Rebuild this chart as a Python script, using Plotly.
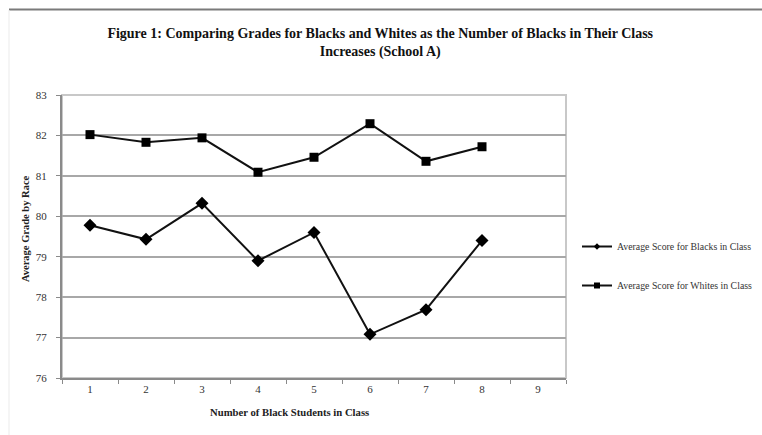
import plotly.graph_objects as go

# Number of black students in the class (category axis 1..9)
class_sizes = ["1", "2", "3", "4", "5", "6", "7", "8", "9"]
x_points = ["1", "2", "3", "4", "5", "6", "7", "8"]

# Average grade by race
blacks_avg = [79.78, 79.43, 80.32, 78.90, 79.60, 77.08, 77.69, 79.40]
whites_avg = [82.02, 81.83, 81.94, 81.09, 81.46, 82.29, 81.36, 81.72]

y_ticks = [76, 77, 78, 79, 80, 81, 82, 83]

series_names = ["Average Score for Blacks in Class", "Average Score for Whites in Class"]

W, H = 762, 435
L, R, T, B = 62, 196, 95, 57
PW, PH = W - L - R, H - T - B

serif = "Liberation Serif, Times New Roman, serif"

fig = go.Figure()

for vals, sym, msize in [(blacks_avg, "diamond", 10), (whites_avg, "square", 9)]:
    fig.add_trace(go.Scatter(
        x=x_points, y=vals, mode="lines+markers",
        line=dict(color="#111111", width=2),
        marker=dict(symbol=sym, size=msize, color="#000000"),
        showlegend=False, hoverinfo="x+y",
    ))

# legend entries with small markers, as in the legend key
for name, sym, msize, grp in [(series_names[0], "diamond", 5, "b"),
                              (series_names[1], "square", 6, "w")]:
    fig.add_trace(go.Scatter(
        x=[None], y=[None], mode="lines+markers", name=name,
        line=dict(color="#111111", width=2),
        marker=dict(symbol=sym, size=msize, color="#000000"),
        legendgroup=grp,
    ))


def px_x(p):
    return (p - L) / PW


def px_y(p):
    return 1 - (p - T) / PH


shapes = [
    # plot area border (top/right light)
    dict(type="rect", xref="paper", yref="paper", x0=0, x1=1, y0=0, y1=1,
         line=dict(color="#c8c8c8", width=2), layer="below"),
    # page frame lines
    dict(type="line", xref="paper", yref="paper",
         x0=px_x(9), x1=px_x(762), y0=px_y(9.5), y1=px_y(9.5),
         line=dict(color="#7a7a7a", width=2)),
    dict(type="line", xref="paper", yref="paper",
         x0=px_x(9), x1=px_x(9), y0=px_y(10), y1=px_y(435),
         line=dict(color="#ebebeb", width=1)),
]

annotations = [
    dict(text="<b>Number of Black Students in Class</b>", showarrow=False,
         xref="paper", yref="paper", x=px_x(289), y=px_y(412),
         xanchor="center", yanchor="middle",
         font=dict(family=serif, size=10.7, color="#222222")),
    dict(text="<b>Average Grade by Race</b>", showarrow=False, textangle=-90,
         xref="paper", yref="paper", x=px_x(25), y=px_y(229),
         xanchor="center", yanchor="middle",
         font=dict(family=serif, size=10.5, color="#222222")),
]

fig.update_layout(
    width=W, height=H,
    margin=dict(l=L, r=R, t=T, b=B, autoexpand=False),
    paper_bgcolor="white", plot_bgcolor="white",
    font=dict(family=serif, color="#333333", size=10),
    title=dict(
        text="<b>Figure 1: Comparing Grades for Blacks and Whites as the Number of Blacks in Their Class<br>Increases (School A)</b>",
        x=0.499, xanchor="center", xref="container",
        y=1 - 38 / H, yanchor="top", yref="container",
        font=dict(family=serif, size=14, color="#111111"),
    ),
    xaxis=dict(
        type="category", categoryorder="array", categoryarray=class_sizes,
        range=[-0.5, 8.5], tickson="boundaries",
        ticks="outside", ticklen=4, tickcolor="#8a8a8a",
        showline=True, linecolor="#8a8a8a", linewidth=2,
        showgrid=False, zeroline=False,
        tickfont=dict(family=serif, size=11, color="#333333"),
    ),
    yaxis=dict(
        range=[76, 83], tickvals=y_ticks,
        ticks="outside", ticklen=4, tickcolor="#8a8a8a",
        showline=True, linecolor="#8a8a8a", linewidth=2,
        showgrid=True, gridcolor="#a8a8a8", gridwidth=1.5,
        zeroline=False, ticklabelstandoff=7,
        tickfont=dict(family=serif, size=11, color="#333333"),
    ),
    legend=dict(
        xref="container", yref="container",
        x=577 / W, xanchor="left", y=1 - 266 / H, yanchor="middle",
        font=dict(family=serif, size=9.8, color="#333333"),
        itemwidth=30, tracegroupgap=20, bgcolor="rgba(0,0,0,0)",
    ),
    shapes=shapes,
    annotations=annotations,
    showlegend=True,
)

fig.write_html("out.html")
